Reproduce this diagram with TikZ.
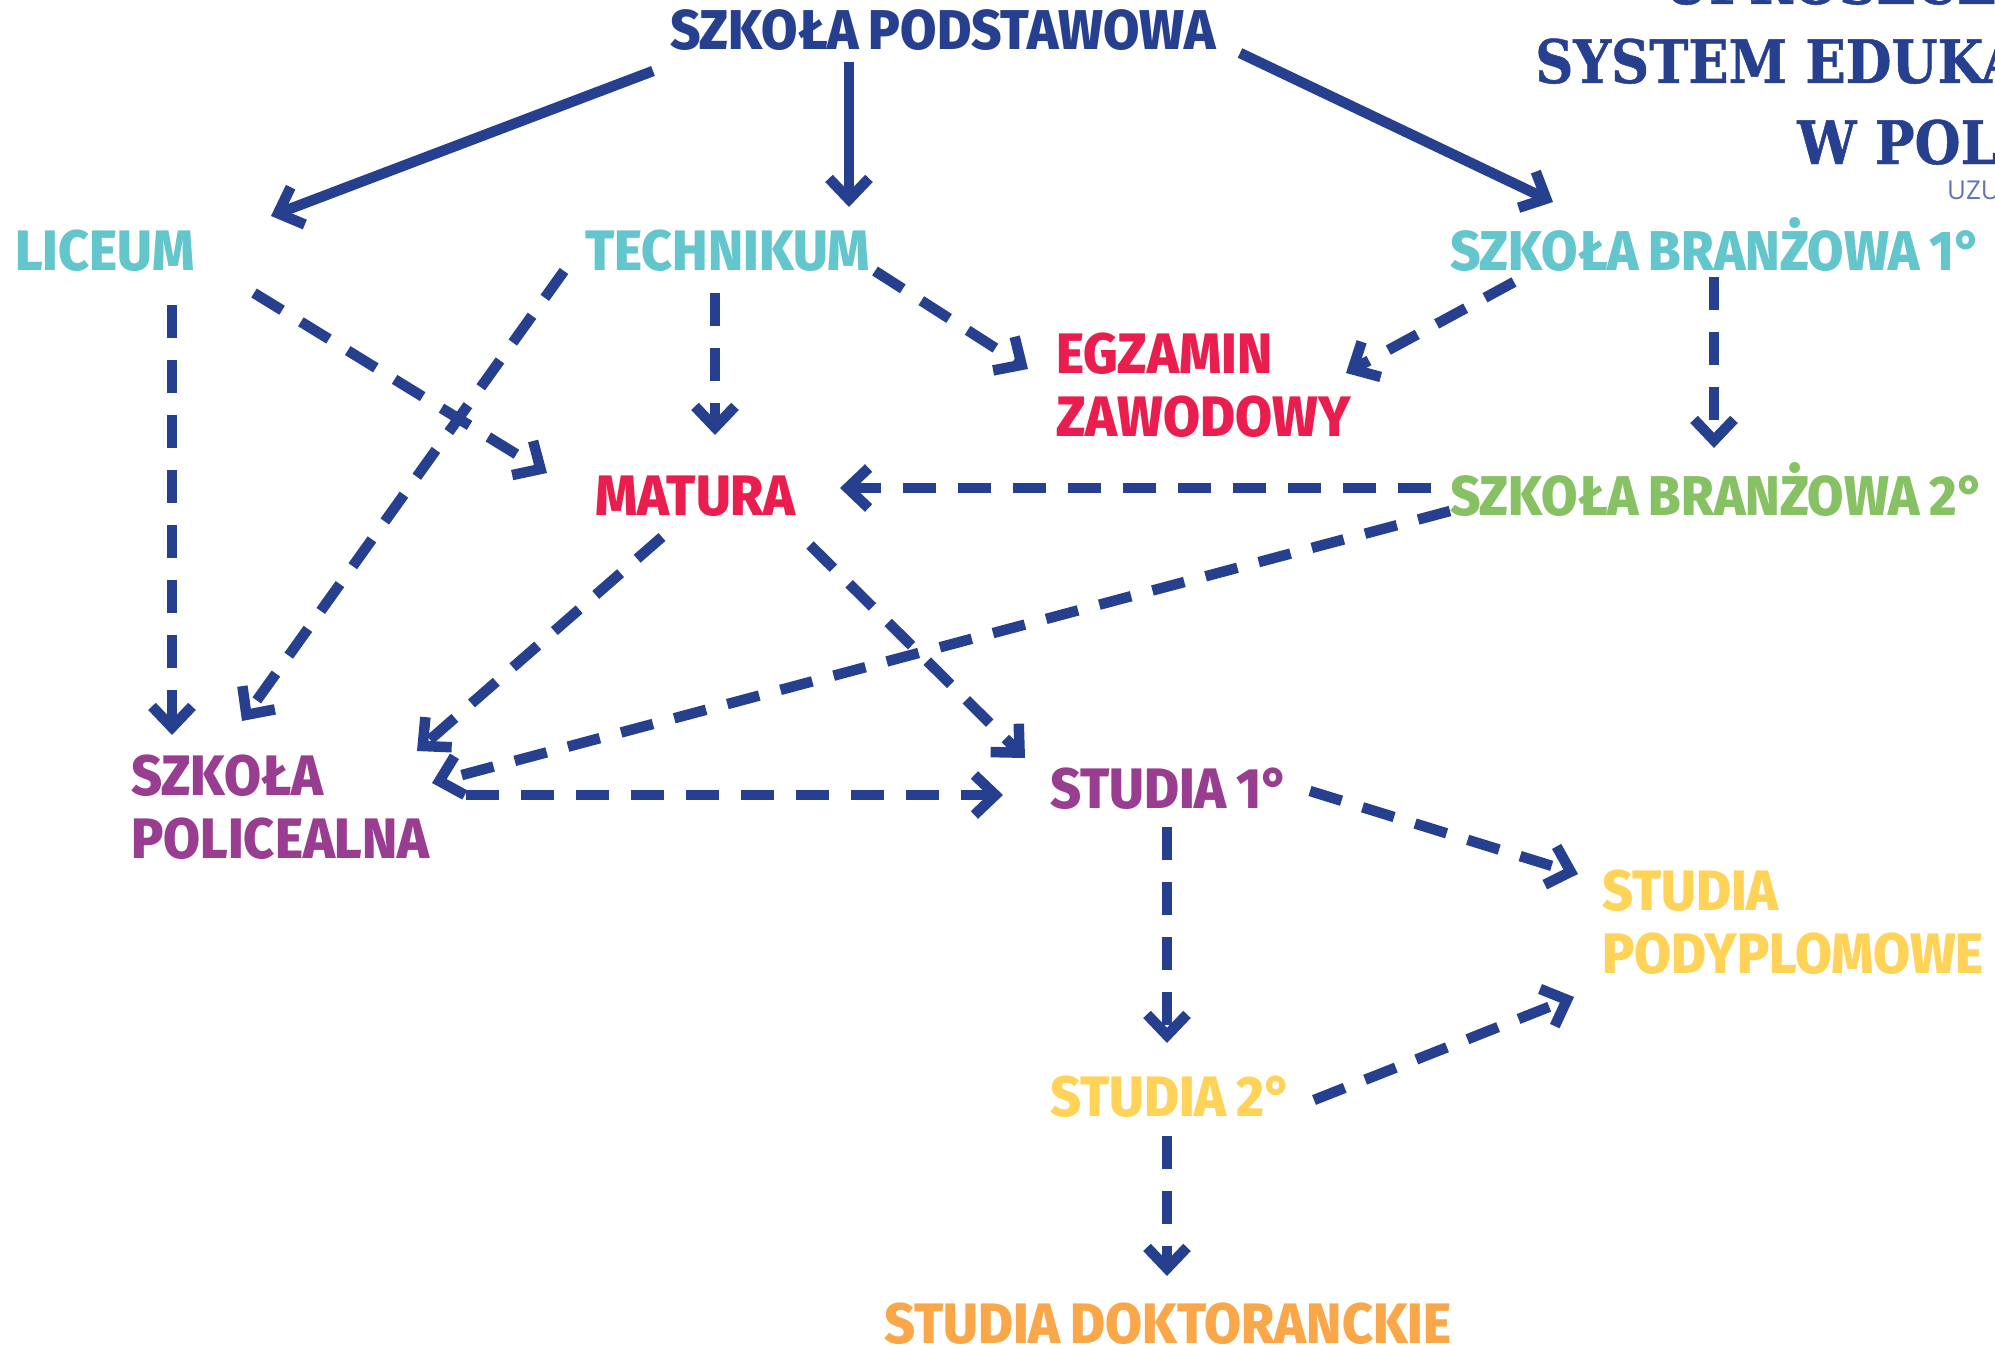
\documentclass[tikz,border=0pt]{standalone}
\usepackage{fontspec}
\setmainfont{Fira Sans}[FakeStretch=0.94, WordSpace=0.8, BoldFont={Fira Sans ExtraBold}]
\newfontfamily\titlefont{DejaVu Serif}[FakeStretch=0.88, FakeBold=0.8]
\newfontfamily\subfont{Open Sans}
\usetikzlibrary{arrows.meta,calc}
\definecolor{cNavy}{RGB}{38,64,143}
\definecolor{cTeal}{RGB}{99,198,204}
\definecolor{cRed}{RGB}{233,30,78}
\definecolor{cGreen}{RGB}{134,193,99}
\definecolor{cPurple}{RGB}{153,61,145}
\definecolor{cYellow}{RGB}{255,211,88}
\definecolor{cOrange}{RGB}{250,167,74}
\definecolor{cLight}{RGB}{100,115,185}
\newcommand\lblfont{\fontsize{57}{63}\selectfont\bfseries}
\newcommand\smlfont{\fontsize{56}{62}\selectfont\bfseries}
\newcommand\twolines[2]{\vtop{\hbox{#1}\hbox{#2}}}
\tikzset{
  lbl/.style={anchor=base west, inner sep=0pt, font=\lblfont},
  sml/.style={lbl, font=\smlfont},
  ttl/.style={anchor=base west, inner sep=0pt, text=cNavy, font=\titlefont\bfseries\fontsize{60}{66}\selectfont},
  conn/.style={draw=cNavy, line width=10.5pt, -{Straight Barb[length=21pt,width=40pt]}},
  dsh/.style={conn, dash pattern=on 33pt off 22pt},
}
\begin{document}
\begin{tikzpicture}[x=1pt,y=-1pt]
\useasboundingbox (0,0) rectangle (1995,1346);
\clip (0,0) rectangle (1995,1346);
% title (cut by the page edge)
\node[ttl] (t1) at (1663,4) {UPROSZCZONY};
\node[ttl] (t2) at (1535,83) {SYSTEM EDUKACJI};
\node[ttl] (t3) at (1797,164) {W POLSCE};
\node[anchor=base west, inner sep=0pt, text=cLight, font=\subfont\fontsize{26}{30}\selectfont] (t4) at (1947,199) {UZUPEŁNIJ};
% labels
\node[sml, text=cNavy] (sp) at (670,50) {SZKOŁA PODSTAWOWA};
\node[lbl, text=cTeal] (lic) at (15,270) {LICEUM};
\node[lbl, text=cTeal] (tech) at (585,270) {TECHNIKUM};
\node[sml, text=cTeal] (br1) at (1450,270) {SZKOŁA BRANŻOWA 1°};
\node[lbl, text=cRed] (egz) at (1056,373) {\twolines{EGZAMIN}{ZAWODOWY}};
\node[lbl, text=cRed] (mat) at (595,515) {MATURA};
\node[sml, text=cGreen] (br2) at (1450,515) {SZKOŁA BRANŻOWA 2°};
\node[lbl, text=cPurple] (pol) at (131,795) {\twolines{SZKOŁA}{POLICEALNA}};
\node[lbl, text=cPurple] (st1) at (1050,808) {STUDIA 1°};
\node[lbl, text=cYellow] (pody) at (1602,910) {\twolines{STUDIA}{PODYPLOMOWE}};
\node[lbl, text=cYellow] (st2) at (1050,1116) {STUDIA 2°};
\node[lbl, text=cOrange] (dok) at (884,1343) {STUDIA DOKTORANCKIE};
% solid connectors
\draw[conn] ($(sp.base west)+(-17,21)$) -- ($(lic.base west)+(256,-54)$);
\draw[conn] ($(sp.base west)+(179,12)$) -- ($(tech.base west)+(264,-63)$);
\draw[conn] ($(sp.base west)+(570,3)$) -- ($(br1.base west)+(103,-68)$);
% dashed connectors
\draw[dsh] ($(lic.base west)+(157,35)$) -- ($(pol.base west)+(41,-60)$);
\draw[dsh] ($(lic.base west)+(239,23)$) -- ($(mat.base west)+(-48,-42)$);
\draw[dsh] ($(tech.base west)+(-21,1)$) -- ($(pol.base west)+(111,-74)$);
\draw[dsh] ($(tech.base west)+(130,23)$) -- ($(mat.base west)+(120,-80)$);
\draw[dsh] ($(tech.base west)+(290,1)$) -- ($(egz.base west)+(-28,-4)$);
\draw[dsh] ($(br1.base west)+(64,12)$) -- ($(egz.base west)+(290,0)$);
\draw[dsh] ($(br1.base west)+(264,7)$) -- ($(br2.base west)+(264,-67)$);
\draw[dsh] ($(br2.base west)+(-19,-27)$) -- ($(mat.base west)+(245,-27)$);
\draw[dsh] ($(br2.base west)+(0,-4)$) -- ($(pol.base west)+(301,-12)$);
\draw[dsh] ($(mat.base west)+(67,22)$) -- ($(pol.base west)+(286,-44)$);
\draw[dsh] ($(mat.base west)+(215,30)$) -- ($(st1.base west)+(-25,-50)$);
\draw[dsh] ($(pol.base west)+(335,0)$) -- ($(st1.base west)+(-47,-13)$);
\draw[dsh] ($(st1.base west)+(260,-17)$) -- ($(pody.base west)+(-24,-36)$);
\draw[dsh] ($(st1.base west)+(117,19)$) -- ($(st2.base west)+(117,-73)$);
\draw[dsh] ($(st2.base west)+(264,-16)$) -- ($(pody.base west)+(-28,87)$);
\draw[dsh] ($(st2.base west)+(117,20)$) -- ($(dok.base west)+(283,-67)$);
\end{tikzpicture}
\end{document}
